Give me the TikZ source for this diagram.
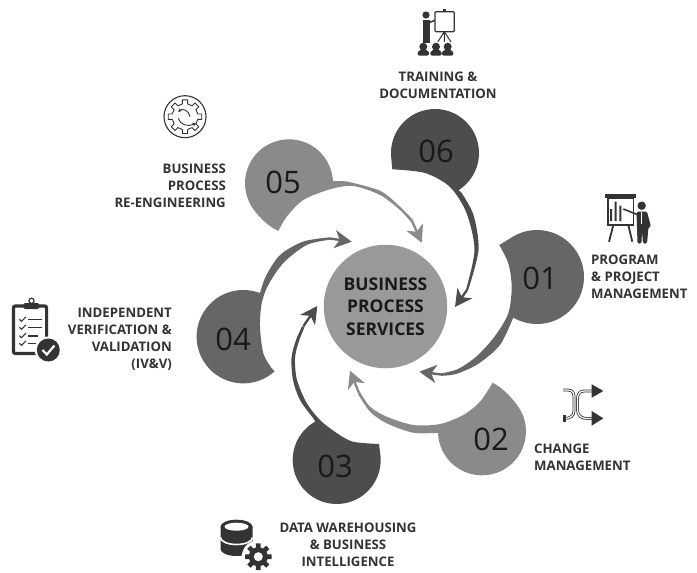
\documentclass[tikz,border=0pt]{standalone}
\usepackage{fontspec}
\setmainfont{Open Sans}
\usepackage{tikz}
\usetikzlibrary{calc}
\usetikzlibrary{arrows.meta}
\definecolor{blobdark}{HTML}{4D4D4D}
\definecolor{blobmid}{HTML}{666666}
\definecolor{bloblight}{HTML}{8A8A8A}
\definecolor{coregray}{HTML}{999999}
\definecolor{inkgray}{HTML}{333333}

\begin{document}
\begin{tikzpicture}
		[
		x=1pt,y=-1pt
		]
		
		% Node styles: labels, numbers and the centre
		\tikzstyle{core node}=[circle,fill=coregray,inner sep=0,minimum size=123.5pt,align=center,text=black!90,font=\fontsize{17.5}{22.5}\selectfont\bfseries];
		\tikzstyle{num node}=[inner sep=0,text=black!90,font=\fontsize{31}{31}\selectfont];
		\tikzstyle{label node}=[inner sep=0,text=inkgray,font=\fontsize{13.2}{17}\selectfont\bfseries];
		\tikzstyle{swirl arrow}=[line width=2.4pt,-{Stealth[length=17pt,width=18pt,inset=5pt]}];
		\tikzstyle{icon}=[draw=inkgray,line width=1.2pt];
		
		% Coordinates are read off the sheet, y downwards
		\useasboundingbox (0,0) rectangle (697,573);
		
		% Blob 06
		\fill[blobdark] (392.3,169.3) -- ($(435,153)+(174.6:44)$) arc[start angle=174.6,end angle=418,radius=44]
			-- plot[smooth] coordinates {(461,192) (473.5,215) (478.5,250) (468,290.5)}
			-- plot[smooth] coordinates {(466,289.5) (474.5,250) (466.5,213) (450,187) (425,173) (392.3,169.3)} -- cycle;
		% Blob 01
		\fill[blobmid] (499.3,245) -- ($(537,277)+(-121.7:47)$) arc[start angle=-121.7,end angle=119.5,radius=47]
			-- plot[smooth] coordinates {(513,318) (500,345) (478,364) (456,374) (441,375.8)}
			-- plot[smooth] coordinates {(441,373.4) (458,369) (477,356) (495,336) (508.3,313.3) (511.7,286.7) (508.3,263.3) (499.3,245)} -- cycle;
		% Blob 02
		\fill[bloblight] (492.7,382.7) .. controls (502,387) and (518.5,403.1) .. (523.3,416.3) arc[start angle=-20,end angle=178,radius=44]
			-- plot[smooth] coordinates {(440,432.7) (413.3,432.7) (386.7,423.3) (370,411.7) (357.8,393.7)}
			-- plot[smooth] coordinates {(360.2,392.3) (370,406.7) (386.7,416.7) (413.3,425) (440,424) (463.3,415) (480,401.7) (492.7,382.7)} -- cycle;
		% Blob 03
		\fill[blobdark] (379,444) -- ($(336.7,460)+(-7.7:44)$) arc[start angle=-7.7,end angle=240.7,radius=44]
			-- plot[smooth] coordinates {(313.3,418.3) (300,400) (293,380) (291.5,358) (296,340) (302.3,326)}
			-- plot[smooth] coordinates {(304.6,327) (299,341) (295,358) (297,380) (306.7,403) (320,420) (336.7,433) (353,441.7) (379,444)} -- cycle;
		% Blob 04
		\fill[blobmid] (271.7,368.3) -- ($(243.3,336.7)+(48:46.7)$) arc[start angle=48,end angle=291,radius=46.7]
			-- plot[smooth] coordinates {(260,293) (266,276) (280,255) (303.3,241.5) (330,237.3)}
			-- plot[smooth] coordinates {(330,239.7) (306.7,245) (283.3,263) (268.3,285) (261.7,303.3) (260,326.7) (263.3,353.3) (271.7,368.3)} -- cycle;
		% Blob 05
		\fill[bloblight] (278.3,231) .. controls (268,226) and (256.9,215.7) .. (250.9,205.3) arc[start angle=150,end angle=357,radius=44]
			-- plot[smooth] coordinates {(346,181.3) (380,190.7) (400,206.7) (413,220)}
			-- plot[smooth] coordinates {(411,222) (400,210) (380,195) (353.3,186) (330,189.3) (303.3,200) (286.7,216.7) (278.3,231)} -- cycle;
		
		% Arrow heads
		\foreach \idx/\tone/\nx/\ny/\tx/\ty in {06/blobdark/467/290/455/307,01/blobmid/441/374.5/419.3/371.7,02/bloblight/359/393/350/370.7,03/blobdark/303.5/326/317.3/306,04/blobmid/330/238.5/351.7/241.7,05/bloblight/412/221/421.7/242.7}{
			\coordinate (neck\idx) at (\nx,\ny);
			\coordinate (tip\idx) at (\tx,\ty);
			\draw[swirl arrow,\tone] (neck\idx) -- (tip\idx);
		}
		
		% The centre
		\node(core)[core node] at (385.5,306.5){BUSINESS\\PROCESS\\SERVICES};
		
		% Numbers
		\node(n06)[num node] at (436,151){06};
		\node(n01)[num node] at (540,278){01};
		\node(n02)[num node] at (491,439){02};
		\node(n03)[num node] at (335,466){03};
		\node(n04)[num node] at (233,339){04};
		\node(n05)[num node] at (283,182){05};
		
		% Labels
		\node(l06)[label node,align=center] at (438,85.5){TRAINING \&\\DOCUMENTATION};
		\node(l05)[label node,align=right,anchor=east] at (226,186){BUSINESS\\PROCESS\\RE-ENGINEERING};
		\node(l01)[label node,align=left,anchor=west] at (591,277){PROGRAM\\\& PROJECT\\MANAGEMENT};
		\node(l02)[label node,align=left,anchor=west] at (534,457.5){CHANGE\\MANAGEMENT};
		\node(l03)[label node,align=center] at (348,545){DATA WAREHOUSING\\\& BUSINESS\\INTELLIGENCE};
		\node(l04)[label node,align=right,anchor=east] at (172,339.5){INDEPENDENT\\VERIFICATION \&\\VALIDATION\\(IV\&V)};
		
		% Icon: trainer and audience
		\fill[inkgray] (426,15) circle (3.6);
		\fill[inkgray] (422.5,19.5) rectangle (429.5,43);
		\draw[inkgray,line width=1.5pt] (428,23) -- (436,20);
		\draw[icon,fill=white,rounded corners=1pt] (435,11.7) rectangle (454.3,31.7);
		\fill[inkgray] (443,8.5) rectangle (445.6,11.7);
		\draw[inkgray,line width=1pt] (444.3,31.7) -- (437.7,42) (444.3,31.7) -- (451,42) (444.3,31.7) -- (444.3,42);
		\foreach \x in {423.3,436,447.7}{
			\fill[inkgray] (\x,46.7) circle (4);
			\fill[inkgray,rounded corners=2pt] (\x-6,55.5) -- (\x-5,50) -- (\x+5,50) -- (\x+6,55.5) -- cycle;
		}
		
		% Icon: presenter and chart
		\fill[inkgray] (605,194.3) rectangle (635.7,197.7);
		\draw[inkgray,line width=1.6pt] (607.7,197.7) rectangle (633.3,225);
		\fill[inkgray] (610,209) rectangle (612,221) (614.7,201.7) rectangle (616.7,221) (619.3,205.7) rectangle (621.3,221);
		\draw[inkgray,line width=1.8pt] (613.3,225) -- (609,241.7) (628.3,225) -- (632.3,241.7);
		\draw[inkgray,line width=1.6pt] (623.3,209) -- (638.3,215);
		\fill[inkgray] (641.7,205.7) circle (4.2);
		\fill[inkgray,rounded corners=1.5pt] (636.5,211.5) -- (647,211.5) -- (651,227) -- (648.5,227) -- (647,243.5) -- (643,243.5) -- (642,231) -- (641.5,243.5) -- (637.5,243.5) -- cycle;
		\draw[white,line width=0.6pt] (641.7,212) -- (641.7,224);
		
		% Icon: crossing paths
		\draw[inkgray,double=white,double distance=1.2pt,line width=0.8pt] (563,390) -- (568,390) .. controls (574,390) and (574,395) .. (574,398) -- (574,411) .. controls (574,416) and (570,418.5) .. (564,418.5);
		\draw[inkgray,line width=1.2pt] (564,416) rectangle (565,421);
		\draw[inkgray,double=white,double distance=1.2pt,line width=0.8pt] (592,391) -- (584,391) .. controls (579,391) and (577.5,395) .. (577.5,399) -- (577.5,410) .. controls (577.5,416) and (582,418.5) .. (587,418.5) -- (592,418.5);
		\fill[inkgray] (591.7,384.3) -- (603.3,391) -- (591.7,397.7) -- cycle;
		\fill[inkgray] (591.7,411) -- (603.3,418.3) -- (591.7,425.7) -- cycle;
		
		% Icon: clipboard with check
		\draw[inkgray,line width=3.2pt,rounded corners=2pt] (13.4,306) rectangle (46.6,353.5);
		\fill[inkgray,rounded corners=1.5pt] (23.3,303) rectangle (39.3,309);
		\draw[inkgray,line width=1.2pt] (31.5,300.8) circle (2.6);
		\foreach \y/\r in {319.3/42,327.3/42,335.7/38,343.3/36}{
			\draw[inkgray,line width=1.1pt] (19.3,\y) -- (21.5,\y+2) -- (26,\y-2.5);
			\draw[inkgray,line width=1.6pt] (28.3,\y) -- (\r,\y);
		}
		\fill[white] (48.3,350) circle (13.5);
		\fill[inkgray] (48.3,350) circle (11.5);
		\draw[white,line width=2.2pt] (42.5,350) -- (46.8,354.5) -- (54.5,345.5);
		
		% Icon: database with gear
		\fill[inkgray] (220.5,526.7) -- (220.5,549) arc[start angle=180,end angle=0,x radius=16,y radius=7] -- (252.5,526.7) -- cycle;
		\fill[inkgray] (236.5,526.7) ellipse (16 and 7);
		\fill[white] (236.5,526.7) ellipse (12 and 4);
		\draw[white,line width=1.6pt] (220.5,537.5) arc[start angle=180,end angle=0,x radius=16,y radius=7];
		\fill[white] (258.3,556.7) circle (16.5);
		\begin{scope}[shift={(258.3,556.7)}]
			\fill[inkgray] (-14:9.5) \foreach \a in {0,45,...,315}{ -- ({\a-14}:9.5) -- ({\a-10}:13.5) -- ({\a+10}:13.5) -- ({\a+14}:9.5)} -- cycle;
			\fill[white] (0,0) circle (4.5);
		\end{scope}
		
		% Icon: gear with turning arrows
		\draw[inkgray,line width=1.1pt] (185,116.7) circle (21);
		\begin{scope}[shift={(185,116.7)}]
			\draw[inkgray,line width=0.9pt] (-14:13) \foreach \a in {0,45,...,315}{ -- ({\a-12}:13) -- ({\a-9}:17) -- ({\a+9}:17) -- ({\a+12}:13)} -- cycle;
		\end{scope}
		\draw[inkgray,line width=0.9pt,-{Stealth[length=3.5pt,width=4pt]}] (190,116.7) .. controls (189,110) and (182,108) .. (178.3,112);
		\draw[inkgray,line width=0.9pt,-{Stealth[length=3.5pt,width=4pt]}] (178.3,118.3) .. controls (180,125) and (188,127) .. (196,123.3);
		
		\end{tikzpicture}
\end{document}
